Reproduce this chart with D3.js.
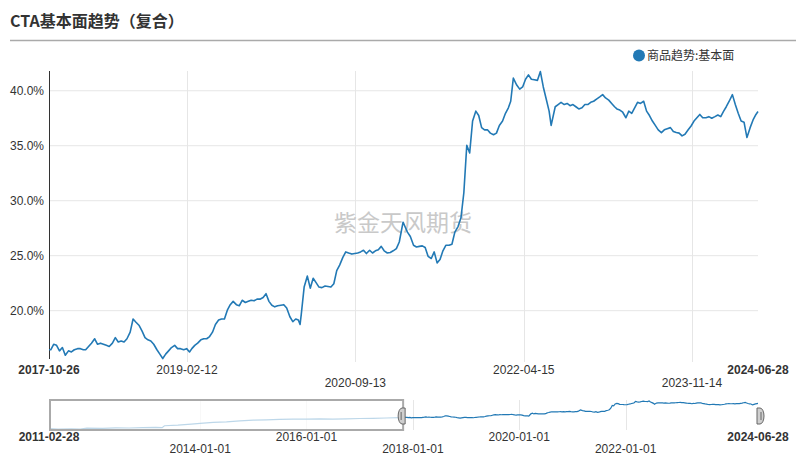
<!DOCTYPE html>
<html><head><meta charset="utf-8">
<script src="https://cdn.jsdelivr.net/npm/d3@7"></script>
<style>
html,body{margin:0;padding:0;background:#fff;}
svg{display:block;font-family:"Liberation Sans",Arial,sans-serif;}
</style></head><body>
<svg id="c" width="806" height="460"></svg>
<script>
const title = "CTA基本面趋势（复合）";
const seriesName = "商品趋势:基本面";
const watermark = "紫金天风期货";

const dates = ["2017-10-26","2017-11-01","2017-11-11","2017-11-21","2017-12-01","2017-12-11","2017-12-21",
"2018-01-01","2018-01-11","2018-01-21","2018-02-01","2018-02-11","2018-02-21","2018-03-01","2018-03-11","2018-03-21",
"2018-04-01","2018-04-11","2018-04-21","2018-05-01","2018-05-11","2018-05-21","2018-06-01","2018-06-11","2018-06-21",
"2018-07-01","2018-07-11","2018-07-21","2018-08-01","2018-08-11","2018-08-21","2018-09-01","2018-09-11","2018-09-21",
"2018-10-01","2018-10-11","2018-10-21","2018-11-01","2018-11-11","2018-11-21","2018-12-01","2018-12-11","2018-12-21",
"2019-01-01","2019-01-11","2019-01-21","2019-02-01","2019-02-11","2019-02-21","2019-03-01","2019-03-11","2019-03-21",
"2019-04-01","2019-04-11","2019-04-21","2019-05-01","2019-05-11","2019-05-21","2019-06-01","2019-06-11","2019-06-21",
"2019-07-01","2019-07-11","2019-07-21","2019-08-01","2019-08-11","2019-08-21","2019-09-01","2019-09-11","2019-09-21",
"2019-10-01","2019-10-11","2019-10-21","2019-11-01","2019-11-11","2019-11-21","2019-12-01","2019-12-11","2019-12-21",
"2020-01-01","2020-01-11","2020-01-21","2020-02-01","2020-02-11","2020-02-21","2020-03-01","2020-03-07","2020-03-11","2020-03-21",
"2020-04-01","2020-04-11","2020-04-21","2020-05-01","2020-05-11","2020-05-21","2020-06-01","2020-06-11","2020-06-21",
"2020-07-01","2020-07-11","2020-07-21","2020-08-01","2020-08-11","2020-08-21","2020-09-01","2020-09-11","2020-09-21",
"2020-10-01","2020-10-11","2020-10-21","2020-11-01","2020-11-11","2020-11-21","2020-12-01","2020-12-11","2020-12-21",
"2021-01-01","2021-01-11","2021-01-21","2021-02-01","2021-02-11","2021-02-21","2021-02-24","2021-03-01","2021-03-11","2021-03-21",
"2021-04-01","2021-04-11","2021-04-21","2021-05-01","2021-05-11","2021-05-21","2021-06-01","2021-06-11","2021-06-21",
"2021-07-01","2021-07-11","2021-07-21","2021-08-01","2021-08-11","2021-08-21","2021-09-01","2021-09-11","2021-09-21",
"2021-10-01","2021-10-11","2021-10-21","2021-11-01","2021-11-11","2021-11-21","2021-12-01","2021-12-11","2021-12-21",
"2022-01-01","2022-01-11","2022-01-21","2022-02-01","2022-02-11","2022-02-21","2022-03-01","2022-03-10","2022-03-21",
"2022-04-01","2022-04-11","2022-04-21","2022-05-01","2022-05-11","2022-05-21","2022-06-01","2022-06-11","2022-06-21",
"2022-07-01","2022-07-11","2022-07-18","2022-08-01","2022-08-11","2022-08-21","2022-09-01","2022-09-11","2022-09-21",
"2022-10-01","2022-10-11","2022-10-21","2022-11-01","2022-11-11","2022-11-21","2022-12-01","2022-12-11","2022-12-21",
"2023-01-01","2023-01-11","2023-01-21","2023-02-01","2023-02-11","2023-02-21","2023-03-01","2023-03-11","2023-03-21",
"2023-04-01","2023-04-11","2023-04-21","2023-05-01","2023-05-11","2023-05-21","2023-06-01","2023-06-11","2023-06-21",
"2023-07-01","2023-07-11","2023-07-21","2023-08-01","2023-08-11","2023-08-21","2023-09-01","2023-09-11","2023-09-21",
"2023-10-01","2023-10-11","2023-10-21","2023-11-01","2023-11-11","2023-11-21","2023-12-01","2023-12-11","2023-12-21",
"2024-01-01","2024-01-11","2024-01-21","2024-02-01","2024-02-11","2024-02-21","2024-03-01","2024-03-11","2024-03-21",
"2024-04-01","2024-04-11","2024-04-21","2024-05-01","2024-05-11","2024-05-21","2024-06-01","2024-06-11","2024-06-21","2024-06-28"];

const values = [16.4,16.4,16.9,16.8,16.3,16.6,15.9,
16.3,16.2,16.4,16.5,16.5,16.4,16.4,16.7,17.0,
17.4,16.9,17.0,16.9,16.8,16.7,17.0,17.5,17.1,
17.2,17.1,17.4,18.0,19.2,18.9,18.6,18.1,17.5,
17.3,17.2,16.9,16.4,16.0,15.6,16.0,16.3,16.6,
16.8,16.5,16.5,16.4,16.5,16.2,16.5,16.8,17.0,
17.3,17.4,17.4,17.6,18.0,18.7,19.1,19.2,19.2,
20.0,20.5,20.8,20.5,20.4,20.9,20.7,20.8,20.9,
20.85,21.0,21.0,21.15,21.5,20.8,20.45,20.3,20.4,
20.45,20.5,20.2,19.4,18.95,19.2,19.1,18.7,19.6,22.1,
23.1,22.0,22.9,22.5,22.1,22.05,22.2,22.15,22.1,
22.4,23.6,24.1,24.8,25.3,25.2,25.1,25.15,25.2,
25.3,25.45,25.15,25.45,25.2,25.4,25.5,25.8,25.4,
25.2,25.25,25.4,25.6,26.2,27.6,28.0,27.7,27.1,26.7,
25.9,25.75,25.8,25.85,25.7,24.9,24.7,25.3,24.3,
24.6,25.4,25.9,25.9,26.0,27.1,27.6,28.4,30.7,
35.0,34.3,37.2,38.1,37.7,36.6,36.4,36.4,36.1,
35.95,36.1,36.8,37.2,37.9,38.4,39.0,41.1,40.5,
40.1,40.3,41.0,41.4,41.0,40.95,40.9,41.7,40.3,
39.2,38.1,36.8,38.5,38.7,38.9,38.7,38.8,38.6,
38.7,38.5,38.3,38.4,38.7,38.7,38.9,39.0,39.2,
39.4,39.6,39.3,39.1,38.8,38.5,38.3,38.2,38.0,
37.5,38.1,37.9,38.4,38.9,38.8,39.0,38.1,37.7,
37.2,36.8,36.4,36.15,36.4,36.5,36.6,36.25,36.15,
36.1,35.85,36.0,36.4,36.75,37.2,37.5,37.8,37.5,
37.5,37.6,37.45,37.6,37.75,37.6,38.06,38.5,39.0,
39.6,38.7,37.9,37.2,37.1,35.7,36.6,37.3,37.8,38.06];

// navigator-only history before the zoomed range
const navPreDates = ["2011-02-28","2011-05-01","2011-08-01","2011-10-01","2011-11-15","2012-03-01","2012-06-01","2012-09-01",
"2012-12-01","2013-03-01","2013-04-15","2013-05-01","2013-08-01","2013-11-01","2014-01-01","2014-04-01","2014-07-01",
"2014-10-01","2015-01-01","2015-04-01","2015-07-01","2015-10-01","2016-01-01","2016-04-01","2016-07-01","2016-10-01",
"2017-01-01","2017-04-01","2017-07-01","2017-10-01"];
const navPreValues = [-0.5,-1.0,-0.8,-1.0,0.3,0.0,0.8,0.5,1.0,1.5,1.0,4.0,5.0,6.5,7.5,9.0,10.0,11.5,12.5,13.0,13.8,14.2,
14.0,14.3,14.0,14.5,15.0,15.3,15.8,16.3];

const yTicks = [20,25,30,35,40];
const xTickLabels = ["2017-10-26","2019-02-12","2020-09-13","2022-04-15","2023-11-14","2024-06-28"];
const navTickLabels = ["2011-02-28","2014-01-01","2016-01-01","2018-01-01","2020-01-01","2022-01-01","2024-06-28"];

const parse = d3.timeParse("%Y-%m-%d");
const data = dates.map((d,i)=>({date:parse(d), v:values[i]}));
const navData = navPreDates.map((d,i)=>({date:parse(d), v:navPreValues[i]})).concat(data);

const svg = d3.select("#c");
const blue = "#2279b5";
const L = 49, R = 758, T = 71, B = 358;

// title
svg.append("text").attr("x",10).attr("y",27).text(title)
  .attr("font-family","'Noto Sans CJK SC',sans-serif").attr("font-size",16).attr("font-weight","bold").attr("fill","#333");
svg.append("line").attr("x1",10).attr("x2",796).attr("y1",40.5).attr("y2",40.5).attr("stroke","#aaa").attr("stroke-width",1.5);

// legend
svg.append("circle").attr("cx",639).attr("cy",55.5).attr("r",6).attr("fill",blue);
svg.append("text").attr("x",647).attr("y",60).text(seriesName)
  .attr("font-family","'Noto Sans CJK SC',sans-serif").attr("font-size",12).attr("fill","#333");

const x = d3.scaleTime().domain([parse(xTickLabels[0]), parse(xTickLabels[xTickLabels.length-1])]).range([L,R]);
const y = d3.scaleLinear().domain([15.65,41.75]).range([B,T]);

// horizontal grid + y labels
const yAxis = d3.axisLeft(y).tickValues(yTicks).tickSize(-(R-L)).tickFormat(d=>d.toFixed(1)+"%");
const gy = svg.append("g").attr("transform",`translate(${L},0)`).call(yAxis);
gy.select(".domain").remove();
gy.selectAll(".tick line").attr("stroke","#e6e6e6");
gy.selectAll(".tick text").attr("x",-5).attr("font-size",12).attr("fill","#333").attr("font-family","'Liberation Sans',Arial,sans-serif");

// vertical grid
const xTickDates = xTickLabels.map(parse);
svg.append("g").selectAll("line").data(xTickDates.slice(1,-1)).join("line")
  .attr("x1",d=>Math.round(x(d))+0.5).attr("x2",d=>Math.round(x(d))+0.5).attr("y1",T).attr("y2",B+4)
  .attr("stroke","#e6e6e6");

// x labels
svg.append("g").selectAll("text").data(xTickDates).join("text")
  .attr("x",d=>x(d)).attr("y",(d,i)=> (i===2||i===4)?387:374)
  .attr("text-anchor","middle").attr("font-size",12).attr("fill","#333")
  .attr("font-weight",(d,i)=> (i===0||i===xTickDates.length-1)?"bold":"normal")
  .text((d,i)=>xTickLabels[i]);

// watermark
svg.append("text").attr("x",403).attr("y",231).attr("text-anchor","middle").text(watermark)
  .attr("font-family","'Noto Sans CJK SC',sans-serif").attr("font-size",23).attr("fill","#c9c9c9");

// y axis line
svg.append("line").attr("x1",L+0.5).attr("x2",L+0.5).attr("y1",T).attr("y2",B+1).attr("stroke","#333").attr("stroke-width",1);

// main line
const line = d3.line().x(d=>x(d.date)).y(d=>y(d.v));
svg.append("path").datum(data).attr("d",line).attr("fill","none").attr("stroke",blue).attr("stroke-width",1.6).attr("stroke-linejoin","round");

// navigator
const NT = 401, NB = 430;
const nx = d3.scaleTime().domain([parse(navTickLabels[0]), parse(navTickLabels[navTickLabels.length-1])]).range([L,R]);
const ext = d3.extent(navData,d=>d.v);
const ny = d3.scaleLinear().domain(ext).range([NB-1,NT]);
const navTickDates = navTickLabels.map(parse);
svg.append("g").selectAll("line").data(navTickDates.slice(1,-1)).join("line")
  .attr("x1",d=>Math.round(nx(d))+0.5).attr("x2",d=>Math.round(nx(d))+0.5).attr("y1",NT-1).attr("y2",NB)
  .attr("stroke","#e6e6e6");
const nline = d3.line().x(d=>nx(d.date)).y(d=>ny(d.v));
svg.append("path").datum(navData).attr("d",nline).attr("fill","none").attr("stroke",blue).attr("stroke-width",1.2);
const selStart = nx(parse(xTickLabels[0]));
svg.append("rect").attr("x",L+1).attr("y",NT-1).attr("width",selStart-L-1).attr("height",NB-NT+1)
  .attr("fill","#fff").attr("fill-opacity",0.7).attr("stroke","#aaa").attr("stroke-width",2);

function handle(cx, dir){
  const g = svg.append("g").attr("transform",`translate(${cx},416)`);
  g.append("path").attr("d", dir<0
    ? "M3,-8 L0,-8 A4,8 0 0 0 0,8 L3,8 Z"
    : "M-3,-8 L0,-8 A4,8 0 0 1 0,8 L-3,8 Z")
    .attr("fill","#cfcfcf").attr("stroke","#666").attr("stroke-width",1);
  g.append("line").attr("x1",dir<0?-1:1).attr("x2",dir<0?-1:1).attr("y1",-4).attr("y2",4).attr("stroke","#666");
}
handle(selStart-1, -1);
handle(R+2, 1);

svg.append("g").selectAll("text").data(navTickDates).join("text")
  .attr("x",d=>nx(d)).attr("y",(d,i)=> (i%2===1)?453:441)
  .attr("text-anchor","middle").attr("font-size",12).attr("fill","#333")
  .attr("font-weight",(d,i)=> (i===0||i===navTickDates.length-1)?"bold":"normal")
  .text((d,i)=>navTickLabels[i]);
</script>
</body></html>
